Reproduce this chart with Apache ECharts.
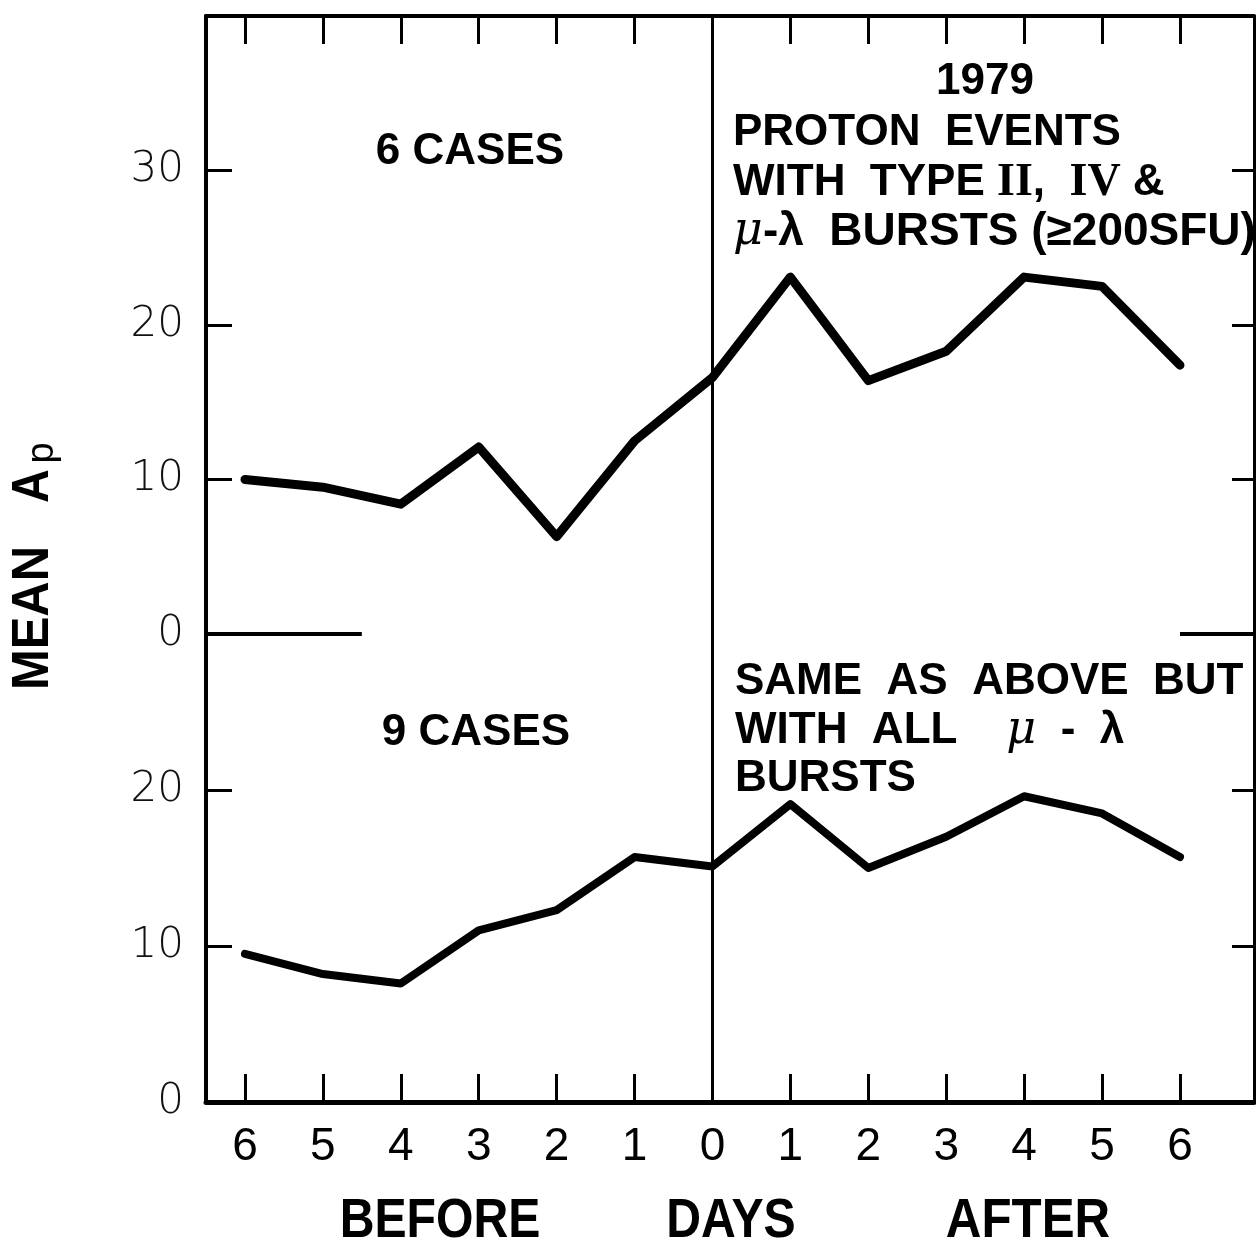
<!DOCTYPE html>
<html><head><meta charset="utf-8">
<script src="https://cdn.jsdelivr.net/npm/echarts@6/dist/echarts.min.js"></script>
<style>html,body{margin:0;padding:0;background:#fff}#c{width:1256px;height:1245px}</style>
</head><body><div id="c"></div>
<script>
// ---- data ----
const days = [-6, -5, -4, -3, -2, -1, 0, 1, 2, 3, 4, 5, 6];
const dayTickLabels = ['6', '5', '4', '3', '2', '1', '0', '1', '2', '3', '4', '5', '6'];
const meanApTop = [10.0, 9.5, 8.4, 12.1, 6.3, 12.5, 16.6, 23.1, 16.4, 18.3, 23.1, 22.5, 17.4];     // 6 cases
const meanApBottom = [9.5, 8.2, 7.6, 11.0, 12.3, 15.7, 15.1, 19.1, 15.0, 17.0, 19.6, 18.5, 15.7];  // 9 cases
const yTicksTop = [0, 10, 20, 30];
const yTicksBottom = [0, 10, 20];

const FONT = '"Liberation Sans", Arial, sans-serif';
const SERIF = '"Liberation Serif", "DejaVu Serif", serif';

const chart = echarts.init(document.getElementById('c'), null, { renderer: 'canvas' });

const topPairs = days.map((d, i) => [d, meanApTop[i]]);
const botPairs = days.map((d, i) => [d, meanApBottom[i]]);

const tickStyle = { color: '#000', width: 3 };
const lineAx = { color: '#000', width: 4 };

const yLabel = {
  fontFamily: '"DejaVu Sans", sans-serif', fontWeight: 200, fontSize: 42, color: '#111', margin: 22
};
const txt = (x, y, text, extra) => ({
  type: 'text', x, y, silent: true,
  style: Object.assign({ text, fontFamily: FONT, fontWeight: 'bold', fontSize: 44, fill: '#000', align: 'left', verticalAlign: 'middle' }, extra || {})
});
const greek = { i: { fontFamily: '"DejaVu Serif", serif', fontStyle: 'italic', fontWeight: 'normal', fontSize: 46, fill: '#000' },
                r: { fontFamily: SERIF, fontWeight: 'bold', fontSize: 46, fill: '#000' } };

const option = {
  backgroundColor: '#fff',
  animation: false,
  grid: [
    { left: 206, width: 1048, top: 16, height: 618, outerBoundsMode: 'none' },
    { left: 206, width: 1048, top: 634, height: 468, outerBoundsMode: 'none' }
  ],
  xAxis: [
    {
      gridIndex: 0, type: 'value', min: -6.5, max: 6.95, position: 'top',
      axisLine: { show: true, onZero: false, lineStyle: lineAx },
      axisTick: { show: true, inside: true, length: 28, lineStyle: tickStyle, customValues: days },
      axisLabel: { show: false },
      splitLine: { show: false }
    },
    {
      gridIndex: 1, type: 'value', min: -6.5, max: 6.95, position: 'bottom',
      axisLine: { show: true, onZero: false, lineStyle: { color: '#000', width: 5 } },
      axisTick: { show: true, inside: true, length: 28, lineStyle: tickStyle, customValues: days },
      axisLabel: {
        show: true, customValues: days,
        formatter: v => dayTickLabels[days.indexOf(Math.round(v))],
        fontFamily: FONT, fontSize: 46, color: '#000', margin: 22
      },
      splitLine: { show: false }
    }
  ],
  yAxis: [
    {
      gridIndex: 0, type: 'value', min: 0, max: 40, interval: 10, position: 'left',
      axisLine: { show: true, onZero: false, lineStyle: lineAx },
      axisTick: { show: true, inside: true, length: 26, lineStyle: tickStyle },
      axisLabel: Object.assign({}, yLabel, { customValues: yTicksTop }),
      splitLine: { show: false }
    },
    {
      gridIndex: 0, type: 'value', min: 0, max: 40, interval: 10, position: 'right',
      axisLine: { show: true, onZero: false, lineStyle: { color: '#000', width: 3 } },
      axisTick: { show: true, inside: true, length: 22, lineStyle: tickStyle },
      axisLabel: { show: false }, splitLine: { show: false }
    },
    {
      gridIndex: 1, type: 'value', min: 0, max: 30, interval: 10, position: 'left',
      axisLine: { show: true, onZero: false, lineStyle: lineAx },
      axisTick: { show: true, inside: true, length: 26, lineStyle: tickStyle },
      axisLabel: Object.assign({}, yLabel, { customValues: yTicksBottom }),
      splitLine: { show: false }
    },
    {
      gridIndex: 1, type: 'value', min: 0, max: 30, interval: 10, position: 'right',
      axisLine: { show: true, onZero: false, lineStyle: { color: '#000', width: 3 } },
      axisTick: { show: true, inside: true, length: 22, lineStyle: tickStyle },
      axisLabel: { show: false }, splitLine: { show: false }
    }
  ],
  series: [
    {
      name: '6 CASES', type: 'line', xAxisIndex: 0, yAxisIndex: 0,
      data: topPairs, symbol: 'none',
      lineStyle: { color: '#000', width: 9, cap: 'round', join: 'round' },
      markLine: {
        silent: true, symbol: ['none', 'none'], label: { show: false },
        lineStyle: { color: '#000', width: 3, type: 'solid' },
        data: [
          { xAxis: 0 },
          [{ coord: [-6.5, 0], lineStyle: { width: 4 } }, { coord: [-4.5, 0] }],
          [{ coord: [6, 0], lineStyle: { width: 4 } }, { coord: [6.95, 0] }]
        ]
      }
    },
    {
      name: '9 CASES', type: 'line', xAxisIndex: 1, yAxisIndex: 2,
      data: botPairs, symbol: 'none',
      lineStyle: { color: '#000', width: 8, cap: 'round', join: 'round' },
      markLine: {
        silent: true, symbol: ['none', 'none'], label: { show: false },
        lineStyle: { color: '#000', width: 3, type: 'solid' },
        data: [{ xAxis: 0 }]
      }
    }
  ],
  graphic: [
    txt(470, 152, '6 CASES', { align: 'center' }),
    txt(476, 733, '9 CASES', { align: 'center' }),
    txt(985, 82, '1979', { align: 'center' }),
    txt(733, 133, 'PROTON  EVENTS'),
    txt(733, 183, 'WITH  TYPE {r|II},  {r|IV} &', { rich: greek }),
    txt(733, 232, '{i|μ}-λ  BURSTS (≥200SFU)', { fontSize: 46, rich: greek }),
    txt(735, 682, 'SAME  AS  ABOVE  BUT'),
    txt(735, 731, 'WITH  ALL    {i|μ}  -  λ', { rich: greek }),
    txt(735, 779, 'BURSTS'),
    { type: 'text', x: 440, y: 1222, scaleX: 0.86, silent: true, style: { text: 'BEFORE', fontFamily: FONT, fontWeight: 'bold', fontSize: 56, fill: '#000', align: 'center', verticalAlign: 'middle' } },
    { type: 'text', x: 731, y: 1222, scaleX: 0.86, silent: true, style: { text: 'DAYS', fontFamily: FONT, fontWeight: 'bold', fontSize: 56, fill: '#000', align: 'center', verticalAlign: 'middle' } },
    { type: 'text', x: 1028, y: 1222, scaleX: 0.88, silent: true, style: { text: 'AFTER', fontFamily: FONT, fontWeight: 'bold', fontSize: 56, fill: '#000', align: 'center', verticalAlign: 'middle' } },
    { type: 'text', x: 34, y: 618, rotation: Math.PI / 2, scaleX: 0.94, silent: true, style: { text: 'MEAN', fontFamily: FONT, fontWeight: 'bold', fontSize: 52, fill: '#000', align: 'center', verticalAlign: 'middle' } },
    { type: 'text', x: 34, y: 486, rotation: Math.PI / 2, scaleX: 0.9, silent: true, style: { text: 'A', fontFamily: FONT, fontWeight: 'bold', fontSize: 52, fill: '#000', align: 'center', verticalAlign: 'middle' } },
    { type: 'text', x: 43, y: 453, rotation: Math.PI / 2, silent: true, style: { text: 'p', fontFamily: FONT, fontWeight: 'normal', fontSize: 38, fill: '#000', align: 'center', verticalAlign: 'middle' } }
  ]
};
chart.setOption(option);
</script>
</body></html>
